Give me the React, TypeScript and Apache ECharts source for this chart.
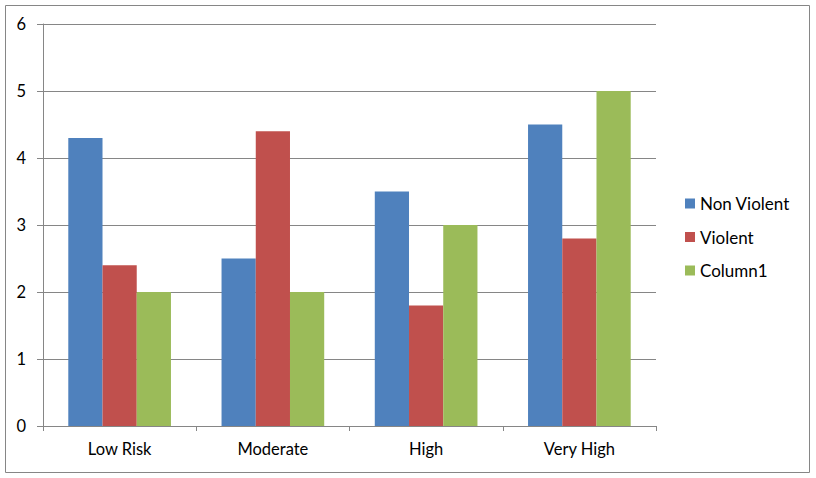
import React, { useEffect, useRef } from "react";
import * as echarts from "echarts";

const categories = ["Low Risk", "Moderate", "High", "Very High"];
const nonViolent = [4.3, 2.5, 3.5, 4.5];
const violent = [2.4, 4.4, 1.8, 2.8];
const column1 = [2.0, 2.0, 3.0, 5.0];
const seriesNames = ["Non Violent", "Violent", "Column1"];
const colors = ["#4F81BD", "#C0504D", "#9BBB59"];

const FONT = "Lato, 'Open Sans', sans-serif";

export default function App() {
  const ref = useRef<HTMLDivElement>(null);
  useEffect(() => {
    if (!ref.current) return;
    const chart = echarts.init(ref.current, null, { renderer: "svg" });
    const data = [nonViolent, violent, column1];
    chart.setOption({
      animation: false,
      backgroundColor: "#fff",
      textStyle: { fontFamily: FONT },
      graphic: [
        {
          type: "rect",
          shape: { x: 5.5, y: 5.5, width: 804, height: 467 },
          style: { fill: "none", stroke: "#868686", lineWidth: 1 },
          silent: true,
        },
      ],
      grid: { left: 43, right: 160, top: 24, bottom: 52 },
      legend: {
        orient: "vertical",
        left: 680,
        top: 190,
        itemWidth: 10,
        itemHeight: 10,
        itemGap: 16.5,
        icon: "rect",
        textStyle: { fontSize: 17, color: "#000", fontFamily: FONT },
        data: seriesNames,
      },
      xAxis: {
        type: "category",
        data: categories,
        axisLine: { lineStyle: { color: "#868686" } },
        axisTick: { show: true, length: 5, lineStyle: { color: "#868686" } },
        axisLabel: { color: "#000", fontSize: 16.5, margin: 14, fontFamily: FONT },
      },
      yAxis: {
        type: "value",
        min: 0,
        max: 6,
        interval: 1,
        axisLine: { show: true, lineStyle: { color: "#868686" } },
        axisTick: { show: true, length: 6, lineStyle: { color: "#868686" } },
        axisLabel: { color: "#000", fontSize: 16.5, margin: 17, fontFamily: FONT },
        splitLine: { lineStyle: { color: "#868686" } },
      },
      series: seriesNames.map((name, i) => ({
        name,
        type: "bar",
        data: data[i],
        itemStyle: { color: colors[i] },
        barGap: "0%",
        barCategoryGap: "33%",
      })),
    });
    return () => chart.dispose();
  }, []);
  return (
    <div
      ref={ref}
      style={{ position: "absolute", left: 0, top: 0, width: 816, height: 478 }}
    />
  );
}
